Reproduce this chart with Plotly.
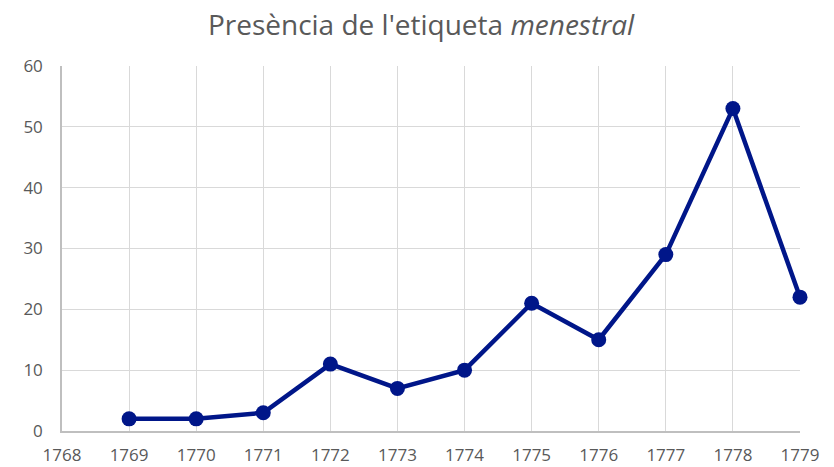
import plotly.graph_objects as go

years = [1769, 1770, 1771, 1772, 1773, 1774, 1775, 1776, 1777, 1778, 1779]
counts = [2, 2, 3, 11, 7, 10, 21, 15, 29, 53, 22]
x_ticks = list(range(1768, 1780))
y_ticks = [0, 10, 20, 30, 40, 50, 60]

# page body has an 8px margin; compensate so the plot lands where the reference has it
fig = go.Figure()
fig.add_trace(go.Scatter(
    x=years, y=counts, mode="lines+markers",
    line=dict(color="#001689", width=4.5),
    marker=dict(color="#001689", size=15),
    cliponaxis=False,
))
fig.update_layout(
    width=826, height=459,
    margin=dict(l=54, r=34, t=58, b=36, autoexpand=False),
    paper_bgcolor="white", plot_bgcolor="white",
    showlegend=False,
    font=dict(family="Open Sans, Noto Sans, sans-serif", color="#595959", size=16),
    title=dict(text="Presència de l'etiqueta <i>menestral</i>", x=0.5, xanchor="center",
               y=0.962, yanchor="middle", font=dict(size=28, color="#595959")),
)
fig.update_xaxes(
    range=[1768, 1779], tickvals=x_ticks, ticktext=[str(t) for t in x_ticks],
    showgrid=True, gridcolor="#d9d9d9", gridwidth=1,
    showline=True, linecolor="#bfbfbf", linewidth=1.5,
    zeroline=False, ticks="", ticklabelstandoff=8, automargin=False,
    tickfont=dict(size=17, color="#595959"),
)
fig.update_yaxes(
    range=[0, 60], tickvals=y_ticks,
    showgrid=True, gridcolor="#d9d9d9", gridwidth=1,
    showline=True, linecolor="#bfbfbf", linewidth=1.5,
    zeroline=False, ticks="", ticklabelstandoff=14, automargin=False,
    tickfont=dict(size=17, color="#595959"),
)
fig.write_html("out.html")
